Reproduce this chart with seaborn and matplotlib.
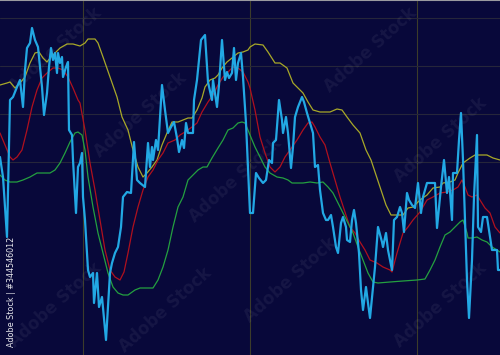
import matplotlib
matplotlib.use("Agg")
import matplotlib.pyplot as plt
import seaborn as sns

# ---- data (x = bar index position, y = level) ----
blue_x = [0, 3, 7, 10, 13, 17, 20, 23, 25, 27,
          30, 32, 35, 38, 42, 44, 47, 49, 51, 53,
          55, 57, 58, 60, 62, 63, 66, 68, 69, 72,
          73, 76, 78, 80, 82, 83, 85, 88, 90, 93,
          94, 97, 99, 102, 106, 110, 112, 115, 118, 121,
          123, 127, 131, 134, 137, 140, 145, 148, 150, 152,
          153, 156, 158, 162, 165, 168, 171, 174, 177, 179,
          182, 184, 186, 188, 193, 194, 197, 201, 205, 208,
          212, 213, 217, 219, 222, 225, 227, 229, 232, 234,
          236, 238, 241, 243, 246, 250, 253, 256, 259, 263,
          266, 269, 272, 273, 276, 279, 282, 283, 286, 288,
          291, 293, 295, 298, 302, 304, 307, 310, 313, 315,
          318, 320, 323, 326, 328, 331, 333, 336, 338, 341,
          343, 346, 347, 350, 352, 354, 356, 357, 359, 361,
          363, 366, 368, 370, 373, 375, 378, 382, 383, 386,
          388, 392, 394, 397, 400, 402, 404, 407, 409, 412,
          415, 418, 421, 423, 427, 431, 435, 437, 441, 444,
          447, 449, 452, 453, 457, 459, 461, 463, 465, 467,
          469, 472, 474, 477, 478, 481, 483, 487, 489, 492,
          495, 497, 498, 500]
blue_y = [198, 178, 118, 255, 258, 268, 275, 248, 285, 307,
          312, 327, 315, 308, 268, 240, 262, 288, 307, 295,
          302, 282, 302, 292, 298, 278, 288, 293, 225, 220,
          195, 142, 188, 192, 202, 158, 135, 85, 78, 82,
          52, 82, 48, 58, 15, 82, 92, 102, 108, 128,
          158, 163, 162, 213, 175, 172, 168, 212, 188, 208,
          195, 215, 205, 270, 245, 222, 228, 233, 217, 203,
          215, 207, 232, 222, 222, 255, 275, 315, 320, 273,
          255, 275, 248, 270, 315, 275, 283, 277, 282, 307,
          275, 292, 302, 278, 232, 142, 142, 182, 177, 172,
          175, 195, 192, 212, 215, 255, 235, 222, 238, 222,
          187, 208, 238, 248, 258, 253, 242, 232, 222, 188,
          190, 165, 142, 135, 135, 140, 128, 108, 102, 132,
          138, 128, 115, 113, 135, 145, 132, 122, 102, 65,
          45, 68, 52, 37, 68, 88, 128, 113, 108, 122,
          105, 85, 135, 138, 148, 142, 123, 162, 155, 150,
          147, 172, 142, 158, 172, 172, 172, 127, 168, 195,
          162, 178, 135, 182, 182, 215, 242, 195, 135, 75,
          37, 95, 158, 220, 128, 123, 138, 138, 125, 105,
          105, 105, 85, 85]

upper_x = [0, 7, 10, 15, 20, 25, 30, 35, 39, 43,
           47, 50, 55, 60, 67, 73, 80, 85, 88, 95,
           98, 103, 110, 117, 122, 128, 133, 138, 143, 147,
           152, 157, 162, 167, 172, 178, 183, 188, 192, 197,
           202, 205, 210, 215, 218, 222, 227, 232, 238, 243,
           248, 250, 255, 263, 268, 275, 280, 287, 293, 298,
           303, 308, 313, 320, 330, 337, 342, 347, 353, 360,
           366, 371, 376, 381, 386, 391, 400, 403, 408, 413,
           420, 427, 433, 440, 443, 450, 455, 458, 463, 470,
           475, 482, 487, 493, 500]
upper_y = [270, 272, 273, 267, 272, 278, 292, 302, 303, 297,
           293, 297, 302, 307, 311, 311, 309, 312, 316, 316,
           312, 298, 278, 258, 238, 225, 205, 188, 178, 182,
           188, 195, 210, 222, 233, 233, 235, 237, 237, 245,
           257, 268, 275, 277, 280, 287, 293, 297, 302, 303,
           305, 308, 311, 310, 303, 292, 292, 287, 272, 267,
           262, 253, 245, 243, 243, 246, 245, 238, 230, 222,
           205, 195, 180, 165, 150, 140, 140, 140, 147, 148,
           155, 160, 167, 168, 172, 173, 175, 182, 192, 197,
           200, 200, 200, 197, 195]

mid_x = [0, 5, 10, 13, 17, 22, 27, 32, 37, 42,
         47, 53, 58, 63, 68, 73, 78, 80, 85, 90,
         95, 100, 105, 110, 115, 120, 124, 128, 133, 138,
         143, 148, 153, 158, 163, 168, 175, 180, 185, 192,
         197, 202, 208, 213, 218, 223, 228, 233, 238, 243,
         248, 250, 255, 260, 265, 270, 275, 280, 285, 290,
         297, 303, 308, 312, 315, 320, 325, 330, 335, 340,
         345, 350, 355, 360, 365, 370, 377, 383, 390, 392,
         397, 403, 408, 413, 420, 427, 433, 440, 447, 453,
         458, 462, 465, 468, 472, 477, 480, 485, 490, 495,
         500]
mid_y = [222, 210, 198, 195, 198, 205, 225, 248, 265, 277,
         282, 287, 287, 285, 278, 267, 255, 252, 225, 192,
         165, 135, 105, 85, 78, 75, 83, 102, 128, 148,
         165, 178, 185, 195, 202, 212, 215, 220, 223, 228,
         232, 243, 253, 260, 270, 278, 283, 288, 287, 283,
         273, 267, 245, 218, 202, 188, 183, 188, 198, 205,
         215, 225, 232, 233, 228, 218, 210, 192, 175, 158,
         143, 128, 122, 113, 105, 95, 92, 88, 85, 83,
         102, 122, 128, 135, 143, 155, 158, 162, 163, 165,
         168, 175, 168, 160, 158, 160, 155, 147, 142, 128,
         122]

lower_x = [0, 5, 10, 17, 23, 30, 37, 43, 50, 55,
           60, 65, 70, 75, 78, 82, 85, 88, 93, 98,
           103, 108, 113, 118, 123, 128, 135, 140, 147, 153,
           158, 163, 168, 173, 178, 183, 188, 193, 198, 203,
           207, 212, 218, 223, 228, 233, 238, 242, 245, 248,
           250, 255, 260, 265, 270, 277, 283, 288, 292, 297,
           303, 310, 317, 323, 328, 333, 338, 343, 348, 353,
           358, 363, 368, 373, 378, 390, 403, 417, 425, 430,
           435, 440, 445, 450, 455, 460, 463, 467, 468, 472,
           477, 482, 487, 492, 497, 500]
lower_y = [180, 175, 173, 173, 175, 178, 182, 182, 182, 185,
           192, 202, 213, 222, 223, 220, 205, 178, 148, 122,
           102, 82, 68, 62, 60, 60, 65, 67, 67, 67,
           75, 88, 105, 128, 148, 158, 175, 180, 185, 188,
           188, 197, 207, 215, 225, 227, 232, 233, 232, 225,
           220, 208, 198, 188, 182, 178, 177, 175, 172, 172,
           172, 173, 172, 173, 168, 162, 152, 142, 132, 122,
           108, 95, 82, 73, 72, 73, 74, 75, 76, 85,
           95, 108, 120, 123, 128, 133, 135, 122, 117, 117,
           118, 115, 113, 108, 105, 103]

grid_x = [83, 250, 417]
grid_y = [337, 289, 241, 193]

watermark = "Adobe Stock"
stock_id = "Adobe Stock | #344546012"

# ---- style ----
BG = "#08083a"
sns.set_style("dark", {"axes.facecolor": BG, "figure.facecolor": BG})
plt.rcParams["font.family"] = ["DejaVu Sans"]

fig = plt.figure(figsize=(5.0, 3.55), dpi=100)
ax = fig.add_axes([0, 0, 1, 1])
ax.set_facecolor(BG)

# faint grid
ax.set_xticks(grid_x)
ax.set_yticks(grid_y)
ax.xaxis.grid(True, color="#3c3c2a", lw=0.8)
ax.yaxis.grid(True, color="#26263a", lw=0.8)
ax.tick_params(length=0, labelbottom=False, labelleft=False)
for s in ["left", "right", "bottom"]:
    ax.spines[s].set_visible(False)
ax.spines["top"].set_color("#9a9aa0")
ax.spines["top"].set_linewidth(1.5)

# watermarks, tiled like the stock-photo overlay (all inside the frame)
for (wx, wy) in [(55, 305), (140, 240), (370, 305), (440, 215), (235, 175),
                 (290, 75), (440, 50), (55, 50), (165, 45)]:
    ax.text(wx, wy, watermark, rotation=42, fontsize=12, fontweight="bold",
            color="white", alpha=0.06, ha="center", va="center", zorder=1)

sns.lineplot(x=upper_x, y=upper_y, ax=ax, color="#a8a828", lw=0.9,
             sort=False, estimator=None, zorder=3)
sns.lineplot(x=mid_x, y=mid_y, ax=ax, color="#b0101e", lw=0.9,
             sort=False, estimator=None, zorder=3)
sns.lineplot(x=lower_x, y=lower_y, ax=ax, color="#24a040", lw=0.9,
             sort=False, estimator=None, zorder=3)
sns.lineplot(x=blue_x, y=blue_y, ax=ax, color="#22a8e4", lw=1.6,
             sort=False, estimator=None, zorder=4)

ax.text(12, 8, stock_id, rotation=90, color="white", alpha=0.9,
        fontsize=5.8, ha="center", va="bottom", zorder=5)

ax.set_xlim(0, 500)
ax.set_ylim(0, 355)
ax.set_xlabel("")
ax.set_ylabel("")

fig.savefig("out.png", dpi=100, facecolor=BG)
